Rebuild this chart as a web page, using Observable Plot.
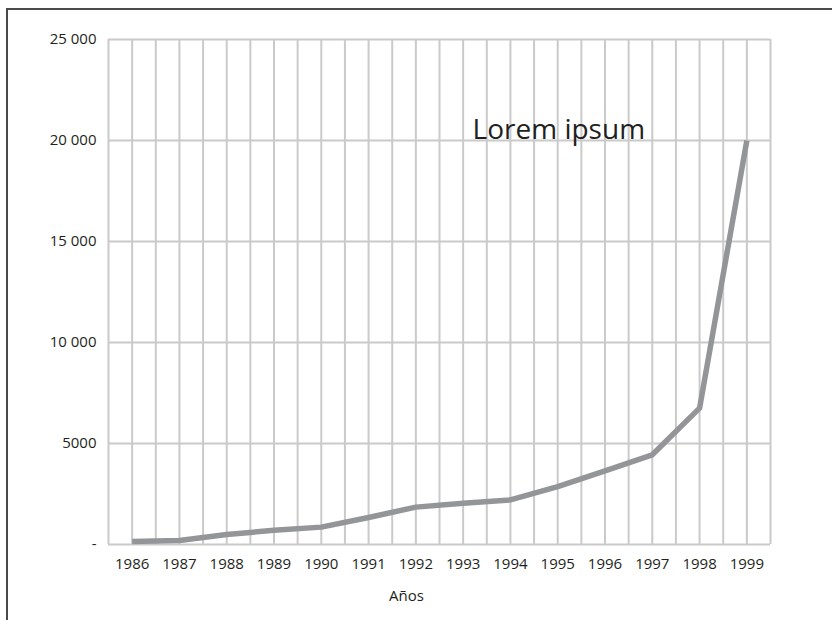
<!DOCTYPE html>
<html>
<head>
<meta charset="utf-8">
<script src="https://cdn.jsdelivr.net/npm/d3@7"></script>
<script src="https://cdn.jsdelivr.net/npm/@observablehq/plot@0.6"></script>
<style>
  html, body { margin: 0; padding: 0; background: #fff; }
  #wrap { position: relative; width: 832px; height: 620px; overflow: hidden; }
  #frame { position: absolute; left: 6px; top: 8px; width: 840px; height: 640px;
           border-left: 2px solid #4a4a4a; border-top: 2px solid #4a4a4a; box-sizing: border-box; }
  #chart { position: absolute; left: 0; top: 0; }
</style>
</head>
<body>
<div id="wrap"><div id="frame"></div><div id="chart"></div></div>
<script>
const years = [1986, 1987, 1988, 1989, 1990, 1991, 1992, 1993, 1994, 1995, 1996, 1997, 1998, 1999];
const values = [150, 200, 500, 700, 860, 1340, 1850, 2040, 2210, 2870, 3650, 4440, 6750, 20000];
const yTicks = [0, 5000, 10000, 15000, 20000, 25000];
const xGrid = d3.range(1985.5, 2000, 0.5);
const annotationText = ["Lorem ipsum"];
const annotationX = [1993.2];
const annotationY = [20500];
const xTitle = ["Años"];
const xTitlePos = [1991.8];

const data = years.map((y, i) => ({year: y, value: values[i]}));
const fmtY = d => d === 0 ? "-" : d >= 10000 ? d3.format(",")(d).replace(",", " ") : String(d);

const font = "'Open Sans', sans-serif";
const fs = 15;
const chart = Plot.plot({
  width: 832,
  height: 620,
  marginLeft: 108,
  marginRight: 62,
  marginTop: 39,
  marginBottom: 76,
  style: {fontFamily: font, fontSize: fs + "px", color: "#231f20", background: "transparent"},
  x: {domain: [1985.5, 1999.5], label: null},
  y: {domain: [0, 25000], label: null},
  marks: [
    Plot.ruleX(xGrid, {stroke: "#cacaca", strokeWidth: 2}),
    Plot.ruleY(yTicks, {stroke: "#cacaca", strokeWidth: 2}),
    Plot.axisX({ticks: years, tickFormat: d => String(d), tickSize: 0, tickPadding: 14, fontSize: fs, fill: "#231f20"}),
    Plot.axisY({ticks: yTicks, tickFormat: fmtY, tickSize: 0, tickPadding: 12, fontSize: fs, fill: "#231f20"}),
    Plot.line(data, {x: "year", y: "value", stroke: "#939598", strokeWidth: 5.5, strokeLinecap: "butt", strokeLinejoin: "round"}),
    Plot.text(annotationText, {x: annotationX, y: annotationY, text: d => d, textAnchor: "start", fontSize: 28, fill: "#231f20"}),
    Plot.text(xTitle, {x: xTitlePos, frameAnchor: "bottom", dy: 56, text: d => d, fontSize: fs, fill: "#231f20"})
  ]
});
document.getElementById("chart").appendChild(chart);
</script>
</body>
</html>
